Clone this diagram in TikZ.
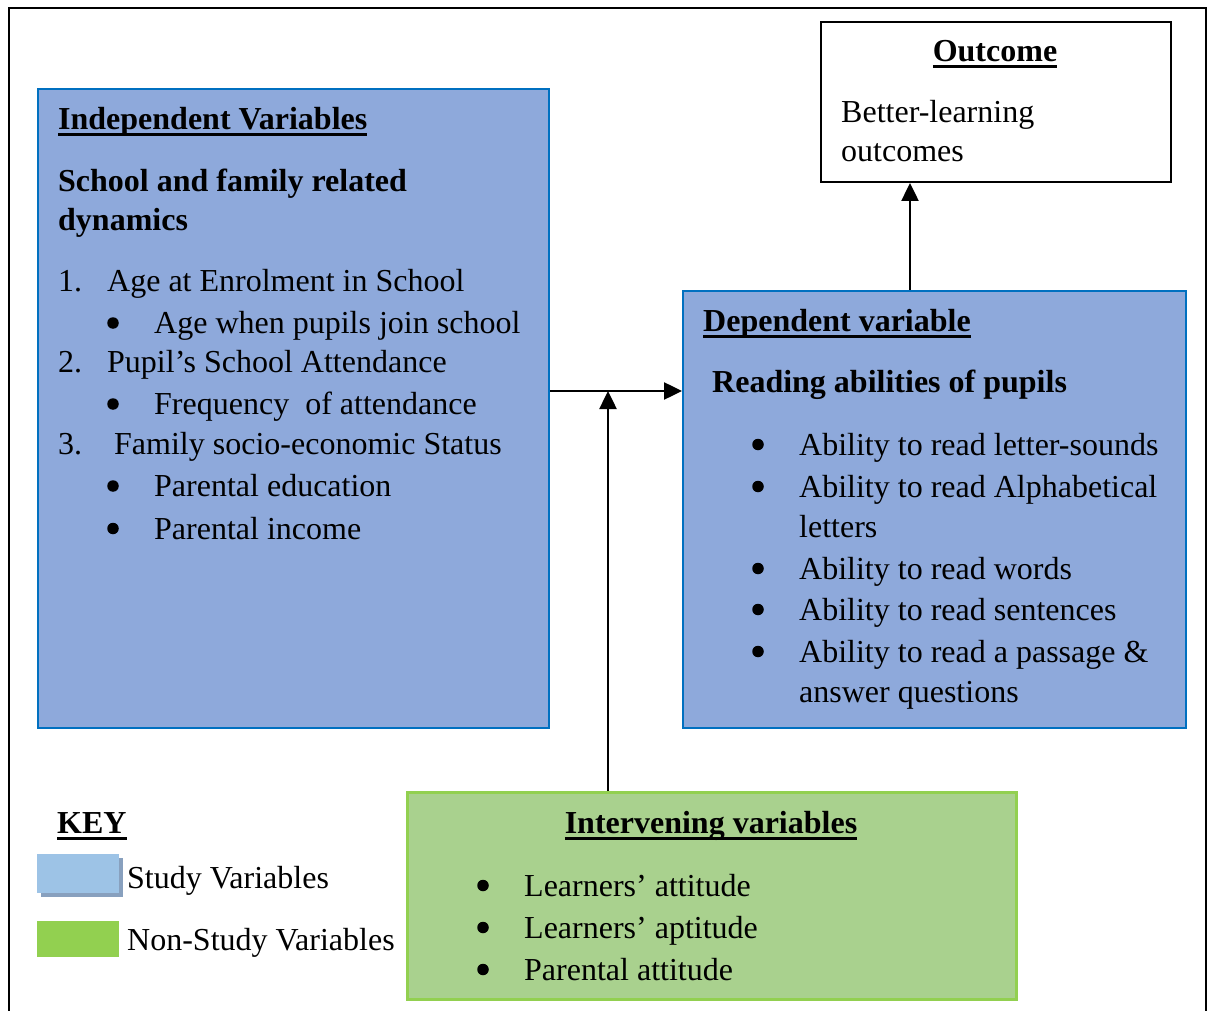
\documentclass[tikz,border=0pt]{standalone}
\usepackage{fontspec}
\setmainfont{Liberation Serif}
\usetikzlibrary{arrows.meta}
\definecolor{studyfill}{RGB}{142,169,219}
\definecolor{studyline}{RGB}{0,112,192}
\definecolor{interfill}{RGB}{169,209,142}
\definecolor{interline}{RGB}{146,208,80}
\definecolor{keyblue}{RGB}{157,195,230}
\definecolor{keyshadow}{RGB}{136,160,190}
\definecolor{keygreen}{RGB}{146,208,80}
\newcommand\myul[1]{{\setbox0\hbox{#1}\rlap{\rule[-6.5pt]{\wd0}{3pt}}\box0}}
\tikzset{
  box/.style={draw, line width=2pt, anchor=north west, inner sep=0pt},
  studybox/.style={box, fill=studyfill, draw=studyline},
  interbox/.style={box, fill=interfill, draw=interline, line width=2.5pt},
  outbox/.style={box, fill=white, draw=black},
  txt/.style={anchor=base west, inner sep=0pt, font=\fontsize{32}{41}\selectfont},
  ctxt/.style={anchor=base, inner sep=0pt, font=\fontsize{32}{41}\selectfont},
  dot/.style={circle, fill=black, inner sep=0pt, minimum size=11.5pt},
  arr/.style={line width=2.5pt, -{Triangle[length=18pt,width=17pt]}},
}
\begin{document}
\begin{tikzpicture}[x=1pt,y=-1pt]
\useasboundingbox (0,0) rectangle (1208,1011);
% outer frame
\coordinate (fbl) at (9,1012);
\coordinate (ftl) at (9,8);
\coordinate (ftr) at (1206,8);
\coordinate (fbr) at (1206,1012);
\draw[line width=2.5pt] (fbl) -- (ftl) -- (ftr) -- (fbr);

% boxes
\node[studybox, minimum width=511pt, minimum height=639pt] (ind) at (37,88) {};
\node[studybox, minimum width=503pt, minimum height=437pt] (dep) at (682,290) {};
\node[outbox, minimum width=350pt, minimum height=160pt] (out) at (820,21) {};
\node[interbox, minimum width=609pt, minimum height=207pt] (int) at (406,791) {};

% independent text
\node[txt] (i1) at (58,129.5) {\bfseries\myul{Independent Variables}};
\node[txt] (i2) at (58,191.5) {\bfseries School and family related};
\node[txt] (i3) at (58,230.5) {\bfseries dynamics};
\node[txt] (n1) at (58,291.5) {1.};
\node[txt] (t1) at (107,291.5) {Age at Enrolment in School};
\node[dot] (b1) at (113,323) {};
\node[txt] (t2) at (154,333) {Age when pupils join school};
\node[txt] (n2) at (58,372.5) {2.};
\node[txt] (t3) at (107,372.5) {Pupil’s School Attendance};
\node[dot] (b2) at (113,404) {};
\node[txt] (t4) at (154,414) {Frequency\ \ of attendance};
\node[txt] (n3) at (58,454.5) {3.};
\node[txt] (t5) at (114,454.5) {Family socio-economic Status};
\node[dot] (b3) at (113,486) {};
\node[txt] (t6) at (154,496) {Parental education};
\node[dot] (b4) at (113,528.5) {};
\node[txt] (t7) at (154,539) {Parental income};

% dependent text
\node[txt] (d1) at (703,331) {\bfseries\myul{Dependent variable}};
\node[txt] (d2) at (712,392) {\bfseries Reading abilities of pupils};
\node[dot] (db1) at (758,444.5) {};
\node[txt] (dt1) at (799,455) {Ability to read letter-sounds};
\node[dot] (db2) at (758,486.5) {};
\node[txt] (dt2) at (799,497) {Ability to read Alphabetical};
\node[txt] (dt2b) at (799,537) {letters};
\node[dot] (db3) at (758,568.5) {};
\node[txt] (dt3) at (799,579) {Ability to read words};
\node[dot] (db4) at (758,609.5) {};
\node[txt] (dt4) at (799,620) {Ability to read sentences};
\node[dot] (db5) at (758,651.5) {};
\node[txt] (dt5) at (799,662) {Ability to read a passage \&};
\node[txt] (dt5b) at (799,702) {answer questions};

% outcome text
\node[ctxt] (o1) at (995,62) {\bfseries\myul{Outcome}};
\node[txt] (o2) at (841,123) {Better-learning};
\node[txt] (o3) at (841,162) {outcomes};

% intervening text
\node[ctxt] (v1) at (711,833) {\bfseries\myul{Intervening variables}};
\node[dot] (vb1) at (483,885.5) {};
\node[txt] (vt1) at (524,896) {Learners’ attitude};
\node[dot] (vb2) at (483,927.5) {};
\node[txt] (vt2) at (524,938) {Learners’ aptitude};
\node[dot] (vb3) at (483,969.5) {};
\node[txt] (vt3) at (524,980) {Parental attitude};

% key
\node[txt] (key) at (57,833) {\bfseries\myul{KEY}};
\fill[keyshadow] (41,858) rectangle (123,897);
\node[anchor=north west, fill=keyblue, inner sep=0pt, minimum width=82pt, minimum height=39pt] (ks) at (37,854) {};
\node[anchor=north west, fill=keygreen, inner sep=0pt, minimum width=82pt, minimum height=36pt] (kn) at (37,921) {};
\node[txt] (kt1) at (127,888) {Study Variables};
\node[txt] (kt2) at (127,950) {Non-Study Variables};

% connectors
\coordinate (j) at (608,391);
\coordinate (k) at (910,0);
\draw[arr] (ind.east |- j) -- (dep.west |- j);
\draw[arr] (j |- int.north) -- (j);
\draw[arr] (k |- dep.north) -- (k |- out.south);
\end{tikzpicture}
\end{document}
